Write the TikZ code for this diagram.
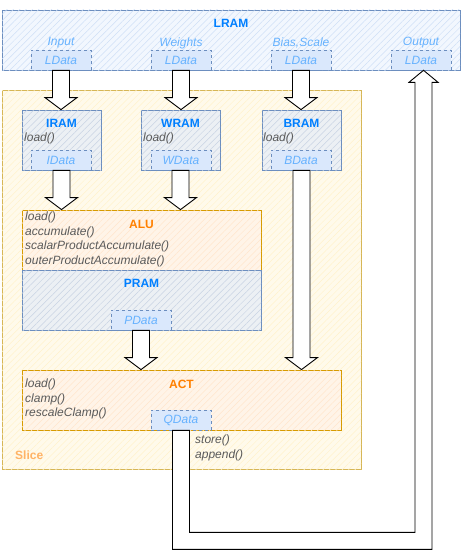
\documentclass[tikz,border=0pt]{standalone}
\usepackage{fontspec}
\setmainfont{Liberation Sans}
\usetikzlibrary{calc,patterns.meta}
\definecolor{blueS}{HTML}{6C8EBF}
\definecolor{blueF}{HTML}{DAE8FC}
\definecolor{blueT}{HTML}{007FFF}
\definecolor{dataT}{HTML}{66B2FF}
\definecolor{greyT}{HTML}{5A5A5A}
\definecolor{orS}{HTML}{D79B00}
\definecolor{orF}{HTML}{FFE6CC}
\definecolor{orT}{HTML}{FF8000}
\definecolor{yeS}{HTML}{D6B656}
\definecolor{yeF}{HTML}{FFF2CC}
\definecolor{sliceT}{HTML}{FFB366}
\newcommand\fatdown[2]{\draw[fat] ($(#1)+(-8.5,0)$) -- ($(#2)+(-8.5,-12)$) -- ($(#2)+(-16,-12)$) -- (#2) -- ($(#2)+(16,-12)$) -- ($(#2)+(8.5,-12)$) -- ($(#1)+(8.5,0)$) -- cycle;}
\begin{document}
\begin{tikzpicture}[x=1pt,y=-1pt,
  every node/.style={font=\fontsize{12}{14}\selectfont, inner sep=0pt},
  hatch/.style={postaction={pattern={Lines[angle=45,distance=4.5pt,line width=0.5pt]}, pattern color=#1}},
  lram/.style={draw=blueS, line width=0.8pt, fill=blueF!35, hatch=blueF!90!blueS, minimum width=458pt, minimum height=60pt},
  ram/.style={draw=blueS, line width=0.8pt, fill=blueF!25!white!92!gray, hatch=blueF!80!gray, minimum width=79pt, minimum height=60pt},
  dat/.style={draw=blueS, dashed, line width=0.6pt, fill=blueF, minimum width=60pt, minimum height=20pt, text=dataT, font=\fontsize{12}{14}\selectfont\itshape},
  slice/.style={draw=yeS, line width=0.8pt, fill=yeF!40, hatch=yeF, minimum width=359pt, minimum height=379pt},
  unit/.style={draw=orS, line width=0.8pt, fill=orF!45, hatch=orF, minimum height=60pt},
  btitle/.style={text=blueT, font=\fontsize{12}{14}\selectfont\bfseries},
  otitle/.style={text=orT, font=\fontsize{12}{14}\selectfont\bfseries},
  meth/.style={text=greyT, font=\fontsize{12}{14.5}\selectfont\itshape, align=left},
  lab/.style={text=dataT, font=\fontsize{12}{14}\selectfont\itshape},
  fat/.style={draw=black, fill=white, line width=0.9pt, line join=miter}]
\useasboundingbox (0,0) rectangle (462,551);
% LRAM
\node[lram] (lram) at (231,40) {};
\node[btitle] (lramT) at (231,23) {LRAM};
\node[lab] (inL) at (61,43) {Input};
\node[lab] (wL) at (181,43) {Weights};
\node[lab] (bL) at (301,43) {Bias,Scale};
\node[lab] (oL) at (421,43) {Output};
\node[dat] (ld1) at (61,60) {LData};
\node[dat] (ld2) at (181,60) {LData};
\node[dat] (ld3) at (301,60) {LData};
\node[dat] (ld4) at (421,60) {LData};
% Slice
\node[slice] (slice) at (181.5,279.5) {};
\node[text=sliceT, font=\fontsize{12}{14}\selectfont\bfseries, anchor=west] (sliceT) at (15,455) {Slice};
% RAMs
\node[ram] (iram) at (61.5,140) {};
\node[btitle] (iramT) at (61.5,123) {IRAM};
\node[meth, anchor=west] (iramM) at (24,138) {load()};
\node[dat] (idata) at (61,160) {IData};
\node[ram] (wram) at (180.5,140) {};
\node[btitle] (wramT) at (180.5,123) {WRAM};
\node[meth, anchor=west] (wramM) at (143,138) {load()};
\node[dat] (wdata) at (181,160) {WData};
\node[ram] (bram) at (301.5,140) {};
\node[btitle] (bramT) at (301.5,123) {BRAM};
\node[meth, anchor=west] (bramM) at (263,138) {load()};
\node[dat] (bdata) at (301,160) {BData};
% ALU
\node[unit, minimum width=239pt] (alu) at (141.5,240) {};
\node[otitle] (aluT) at (141.5,224) {ALU};
\node[meth, anchor=north west] (aluM) at (25,212) {load()\\accumulate()\\scalarProductAccumulate()\\outerProductAccumulate()};
% PRAM
\node[ram, minimum width=239pt] (pram) at (141.5,300) {};
\node[btitle] (pramT) at (141.5,283) {PRAM};
\node[dat] (pdata) at (141,320) {PData};
% ACT
\node[unit, minimum width=319pt] (act) at (181.5,400) {};
\node[otitle] (actT) at (181.5,384) {ACT};
\node[meth, anchor=north west] (actM) at (25,379) {load()\\clamp()\\rescaleClamp()};
\node[dat] (qdata) at (181,420) {QData};
\node[meth, anchor=north west] (stM) at (195,435) {store()\\append()};
% arrows
\coordinate (a1) at (ld1.south |- iram.north);
\coordinate (a2) at (ld2.south |- wram.north);
\coordinate (a3) at (ld3.south |- bram.north);
\coordinate (s1) at (iram.south);
\coordinate (s2) at (wram.south);
\coordinate (t1) at (iram.south |- alu.north);
\coordinate (t2) at (wram.south |- alu.north);
\coordinate (t3) at (pdata.south |- act.north);
\coordinate (s4) at (bram.south);
\coordinate (t4) at (bram.south |- act.north);
\fatdown{ld1.south}{a1}
\fatdown{ld2.south}{a2}
\fatdown{ld3.south}{a3}
\fatdown{s1}{t1}
\fatdown{s2}{t2}
\fatdown{pdata.south}{t3}
\fatdown{s4}{t4}
% return arrow QData -> Output LData
\coordinate (q) at (qdata.south);
\coordinate (o) at ([xshift=2.5pt]ld4.south);
\draw[fat] ($(q)+(-8.5,0)$) -- ($(q)+(-8.5,119)$) -| ($(o)+(8.5,12)$) -- ($(o)+(14.5,12)$) -- (o) -- ($(o)+(-14.5,12)$) -- ($(o)+(-8.5,12)$) |- ($(q)+(8.5,102)$) -- ($(q)+(8.5,0)$) -- cycle;
\end{tikzpicture}
\end{document}
